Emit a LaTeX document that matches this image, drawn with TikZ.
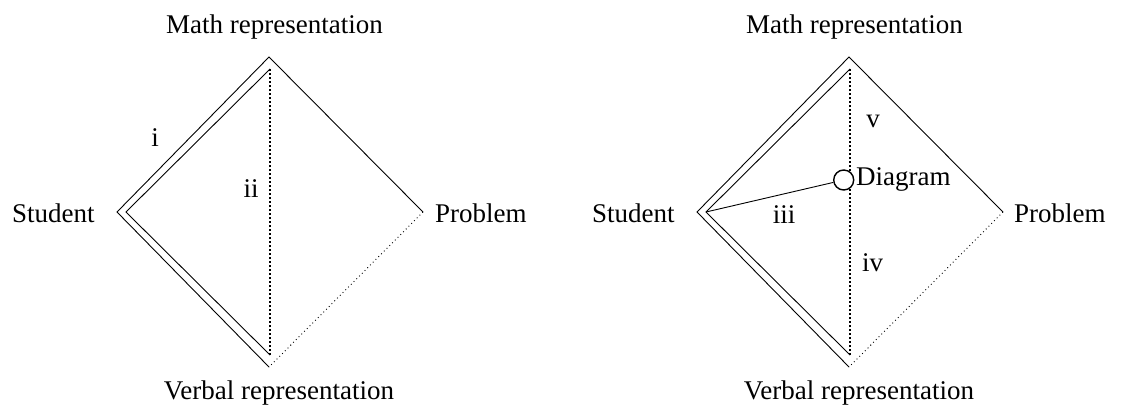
\documentclass[tikz,border=0pt]{standalone}
\usepackage{fontspec}
\setmainfont{Liberation Serif}
\begin{document}
\begin{tikzpicture}[x=1pt,y=-1pt,
  lbl/.style={inner sep=0pt,font=\fontsize{27}{32}\selectfont},
  edge/.style={line width=0.9pt,line join=miter},
  vdots/.style={line width=1.8pt,dash pattern=on 1.8pt off 2.2pt},
  thindots/.style={line width=0.9pt,dash pattern=on 0.9pt off 3pt},
  diagcirc/.style={circle,draw,line width=1.4pt,fill=white,minimum size=20pt,inner sep=0pt}]
\useasboundingbox (0,0) rectangle (1123,407);
% ---------- left diamond ----------
\coordinate (LT) at (269,57);
\coordinate (LL) at (117,212);
\coordinate (LB) at (269,367);
\coordinate (LR) at (423,212);
\coordinate (LiT) at (270,69);
\coordinate (LiL) at (126,212);
\coordinate (LiB) at (270,355);
\draw[edge] (LB) -- (LL) -- (LT) -- (LR);
\draw[edge] (LiB) -- (LiL) -- (LiT);
\draw[vdots] (LiT) -- (LiB);
\draw[thindots] (LR) -- (LB);
\node[lbl,anchor=base] (lmath) at (274.5,33) {Math representation};
\node[lbl,anchor=base] (lverb) at (279,399) {Verbal representation};
\node[lbl,anchor=base west] (lstud) at (12,222) {Student};
\node[lbl,anchor=base west] (lprob) at (435,222) {Problem};
\node[lbl,anchor=base] (li) at (155,146) {i};
\node[lbl,anchor=base] (lii) at (251,197) {ii};
% ---------- right diamond ----------
\coordinate (RT) at (849,57);
\coordinate (RL) at (697,212);
\coordinate (RB) at (849,367);
\coordinate (RR) at (1003,212);
\coordinate (RiT) at (850,69);
\coordinate (RiL) at (706,212);
\coordinate (RiB) at (850,355);
\draw[edge] (RB) -- (RL) -- (RT) -- (RR);
\draw[edge] (RiB) -- (RiL) -- (RiT);
\draw[vdots] (RiT) -- (RiB);
\draw[thindots] (RR) -- (RB);
\node[diagcirc] (circ) at (843.7,180) {};
\draw[edge] (RiL) -- (circ);
\node[lbl,anchor=base west] (diag) at (856,185) {Diagram};
\node[lbl,anchor=base] (rmath) at (854.5,33) {Math representation};
\node[lbl,anchor=base] (rverb) at (859,399) {Verbal representation};
\node[lbl,anchor=base west] (rstud) at (592,222) {Student};
\node[lbl,anchor=base west] (rprob) at (1014,222) {Problem};
\node[lbl,anchor=base] (rv) at (873,127) {v};
\node[lbl,anchor=base] (riii) at (784,223) {iii};
\node[lbl,anchor=base] (riv) at (872.5,271) {iv};
\end{tikzpicture}
\end{document}
